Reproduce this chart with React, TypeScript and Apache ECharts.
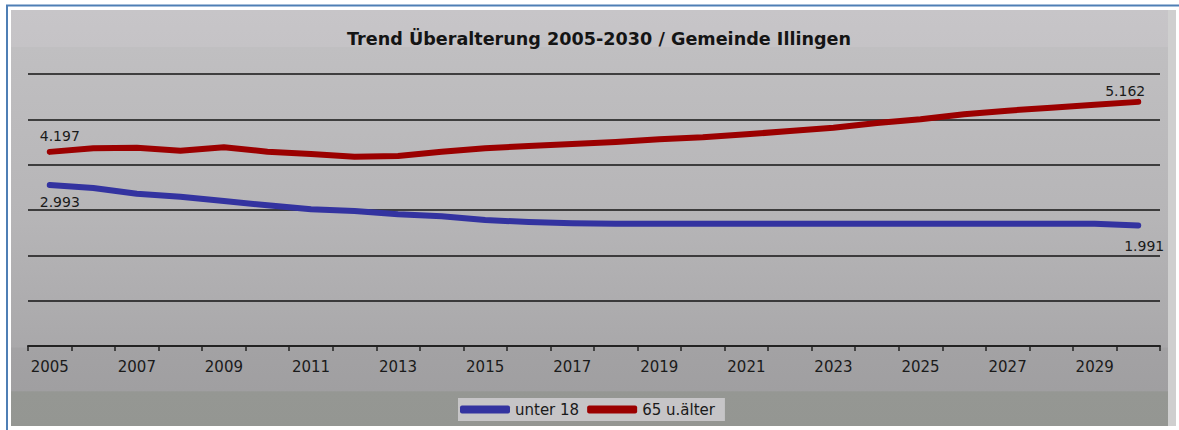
import React, { useEffect, useRef } from "react";
import * as echarts from "echarts";

const years: string[] = [
  "2005", "2006", "2007", "2008", "2009", "2010", "2011", "2012", "2013",
  "2014", "2015", "2016", "2017", "2018", "2019", "2020", "2021", "2022",
  "2023", "2024", "2025", "2026", "2027", "2028", "2029", "2030",
];

// "unter 18"
const under18: number[] = [
  2.993, 2.921, 2.78, 2.705, 2.598, 2.492, 2.392, 2.35, 2.268, 2.219, 2.127,
  2.077, 2.045, 2.035, 2.035, 2.035, 2.035, 2.035, 2.035, 2.035, 2.035, 2.035,
  2.035, 2.035, 2.035, 1.991,
];

// "65 u.älter"
const over65: number[] = [
  4.197, 4.266, 4.277, 4.219, 4.285, 4.2, 4.156, 4.104, 4.117, 4.2, 4.266,
  4.31, 4.349, 4.387, 4.44, 4.478, 4.536, 4.6, 4.663, 4.754, 4.826, 4.922,
  4.992, 5.049, 5.107, 5.162,
];

const seriesNames: string[] = ["unter 18", "65 u.älter"];
const titleText = "Trend Überalterung 2005-2030 / Gemeinde Illingen";

const FONT = "DejaVu Sans, Verdana, sans-serif";
const BLUE = "#3333a0";
const RED = "#9b0000";

function fmt(v: number): string {
  return v.toFixed(3);
}

function withEndLabels(
  values: number[],
  firstOffset: number[],
  lastOffset: number[]
) {
  return values.map((v, i) => {
    if (i === 0 || i === values.length - 1) {
      return {
        value: v,
        label: {
          show: true,
          position: "inside",
          offset: i === 0 ? firstOffset : lastOffset,
          formatter: fmt(v),
          color: "#1a1a1a",
          fontSize: 14,
          fontFamily: FONT,
        },
      };
    }
    return { value: v };
  });
}

export default function App() {
  const ref = useRef<HTMLDivElement>(null);

  useEffect(() => {
    if (!ref.current) return;
    const chart = echarts.init(ref.current, null, { renderer: "svg" });

    const option: any = {
      animation: false,
      backgroundColor: "#ffffff",
      graphic: [
        {
          type: "rect",
          z: -10,
          silent: true,
          shape: { x: 7, y: 5.5, width: 1185, height: 440 },
          style: { fill: "#ffffff", stroke: "#4f7fb5", lineWidth: 2 },
        },
        {
          type: "rect",
          z: -9,
          silent: true,
          shape: { x: 11, y: 10, width: 1157, height: 416 },
          style: {
            fill: new echarts.graphic.LinearGradient(0, 0, 0, 1, [
              { offset: 0, color: "#c7c5c8" },
              { offset: 0.088, color: "#c5c3c6" },
              { offset: 0.09, color: "#c0bfc1" },
              { offset: 0.5, color: "#b6b5b7" },
              { offset: 0.81, color: "#a9a8aa" },
              { offset: 0.813, color: "#a3a2a4" },
              { offset: 0.915, color: "#a09fa1" },
              { offset: 0.918, color: "#959793" },
              { offset: 1, color: "#949692" },
            ]),
          },
        },
        {
          type: "rect",
          z: -9,
          silent: true,
          shape: { x: 1168, y: 10, width: 8, height: 416 },
          style: { fill: "#cfcfcf" },
        },
      ],
      title: {
        text: titleText,
        left: 599,
        top: 30,
        textAlign: "center",
        padding: 0,
        textStyle: {
          fontFamily: FONT,
          fontSize: 17.6,
          fontWeight: "bold",
          color: "#141414",
        },
      },
      legend: {
        data: seriesNames,
        left: 458,
        top: 398,
        orient: "horizontal",
        padding: [4, 10, 4, 2],
        itemGap: 8,
        itemWidth: 50,
        itemHeight: 8,
        icon: "roundRect",
        backgroundColor: "#c6c5c7",
        textStyle: { fontFamily: FONT, fontSize: 15, color: "#1a1a1a" },
      },
      grid: { left: 28, right: 19, top: 74, bottom: 84, containLabel: false },
      xAxis: {
        type: "category",
        data: years,
        boundaryGap: true,
        axisLine: { show: true, lineStyle: { color: "#222222", width: 2 } },
        axisTick: {
          show: true,
          interval: 0,
          length: 5,
          lineStyle: { color: "#222222", width: 1.5 },
        },
        axisLabel: {
          interval: 1,
          margin: 13,
          color: "#1a1a1a",
          fontSize: 15,
          fontFamily: FONT,
        },
        splitLine: { show: false },
      },
      yAxis: [
        {
          type: "value",
          min: 0,
          max: 6,
          interval: 1,
          axisLine: { show: false },
          axisTick: { show: false },
          axisLabel: { show: false },
          splitLine: { show: true, lineStyle: { color: "#151515", width: 1.5 } },
        },
        { type: "value", min: 0.45, max: 5.7, show: false, splitLine: { show: false } },
        { type: "value", min: -1, max: 5.75, show: false, splitLine: { show: false } },
      ],
      series: [
        {
          name: seriesNames[0],
          type: "line",
          yAxisIndex: 2,
          data: withEndLabels(under18, [10, 17], [6, 21]),
          showSymbol: true,
          showAllSymbol: true,
          symbol: "circle",
          symbolSize: 0.1,
          color: BLUE,
          itemStyle: { color: BLUE },
          lineStyle: { color: BLUE, width: 6, cap: "round", join: "round" },
          label: { show: false },
          z: 3,
        },
        {
          name: seriesNames[1],
          type: "line",
          yAxisIndex: 1,
          data: withEndLabels(over65, [10, -16], [-13, -11]),
          showSymbol: true,
          showAllSymbol: true,
          symbol: "circle",
          symbolSize: 0.1,
          color: RED,
          itemStyle: { color: RED },
          lineStyle: { color: RED, width: 6, cap: "round", join: "round" },
          label: { show: false },
          z: 3,
        },
      ],
    };

    chart.setOption(option);
    return () => {
      chart.dispose();
    };
  }, []);

  return (
    <div
      ref={ref}
      style={{ position: "fixed", left: 0, top: 0, width: 1179, height: 430 }}
    />
  );
}
